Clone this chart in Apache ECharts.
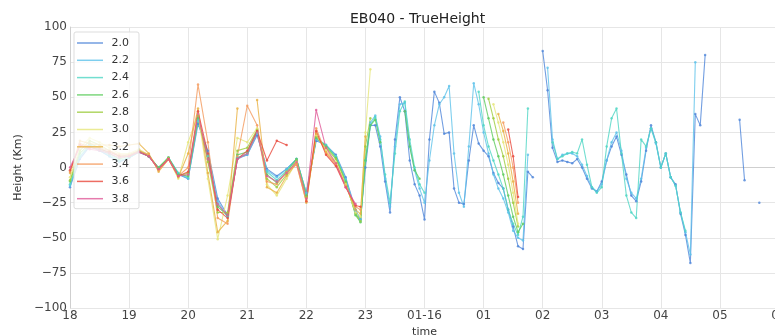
<!DOCTYPE html>
<html>
<head>
<meta charset="utf-8">
<script src="https://cdn.jsdelivr.net/npm/echarts@6/dist/echarts.min.js"></script>
<style>
html,body{margin:0;padding:0;background:#fff;}
#chart{width:775px;height:336px;}
</style>
</head>
<body>
<div id="chart"></div>
<script>
const _ = null;
// minutes after 18:00 (Jan 15)
const times = [0,10,20,30,40,50,60,70,80,90,100,110,120,130,140,150,160,170,180,190,200,210,220,230,240,250,260,270,280,290,
295,300,305,310,315,320,325,330,335,340,
345,350,355,360,365,370,375,380,385,390,
395,400,405,410,415,420,425,430,435,440,
445,450,455,460,465,470,475,480,485,490,
495,500,505,510,515,520,525,530,535,540,
545,550,555,560,565,570,575,580,585,590,
595,600,605,610,615,620,625,630,635,640,
645,650,655,660,665,670,675,680,685,690,
695,700];

const names = ['2.0','2.2','2.4','2.6','2.8','3.0','3.2','3.4','3.6','3.8'];

const s20 = [-14,6,15,12,8,4,7,11,8,-1, 7,-5,-8,31,12,-22,-34,7,9,23, -1,-6,-1,6,-18,19,16,9,-7,-30,
-37,0,30,30,15,-10,-32,20,50,40,
5,-12,-20,-37,20,54,46,24,25,-15,
-25,-26,5,30,17,12,8,-4,-11,-15,
-30,-42,-56,-58,-3,-7,_,83,55,14,
4,5,4,3,6,0,-8,-15,-17,-10,
5,15,22,9,-5,-20,-24,-10,12,30,
18,0,10,-7,-12,-33,-48,-68,38,30,
80,_,_,_,_,_,_,34,-9,_,
_,-25];

const s22 = [-13,7,16,12,8,4,7,11,8,-1, 7,-4,-8,33,10,-24,-35,6,9,24, -2,-7,-1,6,-18,20,16,8,-8,-31,
-37,5,32,37,22,-8,-28,15,45,46,
15,-2,-15,-25,5,30,45,50,58,10,
-18,-28,15,60,45,25,10,-5,-15,-22,
-32,-45,-50,-52,9,_,_,_,71,20,
6,9,10,10,8,2,-6,-14,-17,-12,
5,18,25,12,-8,-18,-22,-8,14,28,
17,0,10,-7,-13,-32,-46,-62,75,_,
_,_,_,_,_,_,_,_,_,_,
_,_];

const s24 = [-12,8,16,13,9,5,7,11,8,0, 7,-4,-7,34,8,-26,-35,7,10,25, -3,-9,-2,6,-19,21,16,8,-9,-33,
-38,5,30,36,20,-5,-25,10,40,47,
20,0,-12,-18,_,_,_,_,_,_,
_,_,_,_,54,30,15,5,-5,-15,
-30,-40,-48,-35,42,_,_,_,_,18,
6,8,10,11,10,20,2,-14,-18,-14,
15,35,42,10,-20,-32,-36,20,15,28,
18,0,10,-7,-13,-32,-45,_,_,_,
_,_,_,_,_,_,_,_,_,_,
_,_];

const s26 = [-10,10,17,14,10,6,8,12,8,0, 7,-5,-6,35,6,-28,-34,9,11,26, -5,-11,-3,6,-20,21,15,7,-10,-34,
-39,5,30,34,18,_,_,_,_,40,
15,-2,-8,_,_,_,_,_,_,_,
_,_,_,_,_,50,35,20,8,-5,
-20,-35,-46,-40,_,_,_,_,_,_,
_,_,_,_,_,_,_,_,_,_,
_,_,_,_,_,_,_,_,_,_,
_,_,_,_,_,_,_,_,_,_,
_,_,_,_,_,_,_,_,_,_,
_,_];

const s28 = [-9,12,19,16,12,8,9,12,9,-1, 7,-6,-4,37,4,-32,-32,12,14,27, -8,-14,-5,5,-21,22,14,6,-11,-33,
-38,15,35,_,_,_,_,_,_,_,
_,_,_,_,_,_,_,_,_,_,
_,_,_,_,_,_,49,35,20,8,
-8,-25,-42,_,_,_,_,_,_,_,
_,_,_,_,_,_,_,_,_,_,
_,_,_,_,_,_,_,_,_,_,
_,_,_,_,_,_,_,_,_,_,
_,_,_,_,_,_,_,_,_,_,
_,_];

const s30 = [-7,14,21,18,14,10,10,13,9,-2, 6,-8,18,38,-8,-51,-20,21,18,28, -12,-20,-8,4,-24,23,12,4,-12,-32,
-35,25,70,_,_,_,_,_,_,_,
_,_,_,_,_,_,_,_,_,_,
_,_,_,_,_,_,_,45,32,18,
2,-18,-40,_,_,_,_,_,_,_,
_,_,_,_,_,_,_,_,_,_,
_,_,_,_,_,_,_,_,_,_,
_,_,_,_,_,_,_,_,_,_,
_,_,_,_,_,_,_,_,_,_,
_,_];

const s32 = [-4,19,17,16,16,15,16,17,10,-3, 6,-7,10,42,-4,-46,-38,42,_,48, -14,-18,-6,3,-25,24,11,3,-13,-30,
-33,22,_,_,_,_,_,_,_,_,
_,_,_,_,_,_,_,_,_,_,
_,_,_,_,_,_,_,_,38,26,
10,-10,-33,_,_,_,_,_,_,_,
_,_,_,_,_,_,_,_,_,_,
_,_,_,_,_,_,_,_,_,_,
_,_,_,_,_,_,_,_,_,_,
_,_,_,_,_,_,_,_,_,_,
_,_];

const s34 = [-3,17,15,14,12,9,9,12,9,-2, 6,-6,0,59,18,-36,-40,8,44,30, -10,-12,-3,2,-24,28,10,2,-13,-28,
-30,_,_,_,_,_,_,_,_,_,
_,_,_,_,_,_,_,_,_,_,
_,_,_,_,_,_,_,_,_,32,
18,0,-25,_,_,_,_,_,_,_,
_,_,_,_,_,_,_,_,_,_,
_,_,_,_,_,_,_,_,_,_,
_,_,_,_,_,_,_,_,_,_,
_,_,_,_,_,_,_,_,_,_,
_,_];

const s36 = [-2,16,14,13,11,8,8,11,8,-1, 6,-6,-3,40,10,-30,-36,6,12,26, 5,19,16,_,-24,26,9,1,-14,-27,
-28,_,_,_,_,_,_,_,_,_,
_,_,_,_,_,_,_,_,_,_,
_,_,_,_,_,_,_,_,_,_,
27,8,-21,_,_,_,_,_,_,_,
_,_,_,_,_,_,_,_,_,_,
_,_,_,_,_,_,_,_,_,_,
_,_,_,_,_,_,_,_,_,_,
_,_,_,_,_,_,_,_,_,_,
_,_];

const s38 = [0,15,13,12,10,7,8,11,8,-1, 6,-6,-5,38,6,-26,-34,6,10,25, -6,-10,-4,4,-22,41,14,3,-14,-26,
_,_,_,_,_,_,_,_,_,_,
_,_,_,_,_,_,_,_,_,_,
_,_,_,_,_,_,_,_,_,_,
_,_,_,_,_,_,_,_,_,_,
_,_,_,_,_,_,_,_,_,_,
_,_,_,_,_,_,_,_,_,_,
_,_,_,_,_,_,_,_,_,_,
_,_,_,_,_,_,_,_,_,_,
_,_];

const values = [s20,s22,s24,s26,s28,s30,s32,s34,s36,s38];
const colors = ['#4f86d9','#5cc2ea','#4fd6c4','#5ccc5c','#9ccc3c','#e6e67a','#e8b040','#f49a5c','#e8483c','#e05a98'];

const xTicks = {18:'18',19:'19',20:'20',21:'21',22:'22',23:'23',24:'01-16',25:'01',26:'02',27:'03',28:'04',29:'05',30:'06'};

const FONT = 'DejaVu Sans';
const series = names.map((n, k) => ({
  name: n,
  type: 'line',
  data: times.map((t, i) => [18 + t / 60, values[k][i]]),
  connectNulls: false,
  symbol: 'circle',
  symbolSize: 2.5,
  showSymbol: true,
  lineStyle: { width: 1.1, color: colors[k], opacity: 0.8 },
  itemStyle: { color: colors[k], opacity: 0.8 },
  emphasis: { disabled: true }
}));

const chart = echarts.init(document.getElementById('chart'), null, { renderer: 'canvas' });
chart.setOption({
  animation: false,
  backgroundColor: '#fff',
  title: {
    text: 'EB040 - TrueHeight',
    left: 345, top: 7,
    textStyle: { fontFamily: FONT, fontSize: 14, fontWeight: 'normal', color: '#222' }
  },
  legend: {
    orient: 'vertical',
    left: 74, top: 32,
    padding: [4, 10, 3, 3],
    itemWidth: 26, itemHeight: 1.5, itemGap: 3.3,
    icon: 'rect',
    backgroundColor: 'rgba(255,255,255,0.8)',
    borderColor: '#dddddd', borderWidth: 1, borderRadius: 2,
    formatter: n => ' ' + n,
    textStyle: { fontFamily: FONT, fontSize: 11, color: '#333', lineHeight: 14 },
    data: names
  },
  grid: { left: 70, right: -4, top: 27, bottom: 28, outerBoundsMode: 'none', containLabel: false },
  xAxis: {
    type: 'value', min: 18, max: 30, interval: 1,
    name: 'time', nameLocation: 'middle', nameGap: 18,
    nameTextStyle: { fontFamily: FONT, fontSize: 11, color: '#333' },
    axisLine: { show: true, lineStyle: { color: '#cfcfcf', width: 1 } },
    axisTick: { show: false },
    splitLine: { show: true, lineStyle: { color: '#e6e6e6', width: 1 } },
    axisLabel: {
      margin: 2, fontFamily: FONT, fontSize: 12, color: '#444',
      formatter: v => (xTicks[v] !== undefined ? xTicks[v] : '')
    }
  },
  yAxis: {
    type: 'value', min: -100, max: 100, interval: 25,
    name: 'Height (Km)', nameLocation: 'middle', nameGap: 42,
    nameTextStyle: { fontFamily: FONT, fontSize: 11, color: '#333' },
    axisLine: { show: true, lineStyle: { color: '#cfcfcf', width: 1 } },
    axisTick: { show: false },
    splitLine: { show: true, lineStyle: { color: '#e6e6e6', width: 1 } },
    axisLabel: {
      margin: 3, fontFamily: FONT, fontSize: 12, color: '#444',
      formatter: v => (v < 0 ? '\u2212' + Math.abs(v) : String(v))
    }
  },
  series: series
});
</script>
</body>
</html>
